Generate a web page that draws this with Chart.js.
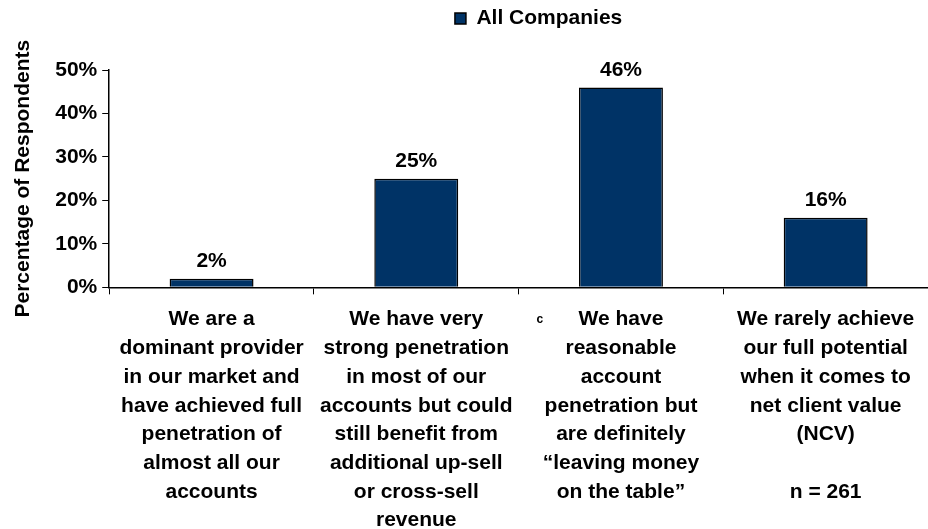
<!DOCTYPE html>
<html>
<head>
<meta charset="utf-8">
<script src="https://cdn.jsdelivr.net/npm/chart.js@4.4.1/dist/chart.umd.min.js"></script>
<style>
  html, body { margin: 0; padding: 0; background: #fff; }
  #wrap { width: 928px; height: 529px; position: relative; }
</style>
</head>
<body>
<div id="wrap"><canvas id="chart"></canvas></div>
<script>
// Survey answers, all companies (n = 261)
const categories = [
    ['We are a', 'dominant provider', 'in our market and', 'have achieved full', 'penetration of', 'almost all our', 'accounts'],
    ['We have very', 'strong penetration', 'in most of our', 'accounts but could', 'still benefit from', 'additional up-sell', 'or cross-sell', 'revenue'],
    ['We have', 'reasonable', 'account', 'penetration but', 'are definitely', '\u201cleaving money', 'on the table\u201d'],
    ['We rarely achieve', 'our full potential', 'when it comes to', 'net client value', '(NCV)', '', 'n = 261']
];
const allCompanies = [2, 25, 46, 16];
const yTicks = [0, 10, 20, 30, 40, 50];

const FONT = "'Liberation Sans', Arial, sans-serif";
const FS = 21;

// values above the bars
const valueLabels = {
    id: 'valueLabels',
    afterDatasetsDraw(chart) {
        const ctx = chart.ctx;
        const meta = chart.getDatasetMeta(0);
        ctx.save();
        ctx.font = 'bold ' + FS + 'px ' + FONT;
        ctx.fillStyle = '#000';
        ctx.textAlign = 'center';
        ctx.textBaseline = 'bottom';
        meta.data.forEach((bar, i) => {
            ctx.fillText(allCompanies[i] + '%', bar.x, bar.y - 7);
        });
        // stray "c" mark next to the third category label
        const xs = chart.scales.x;
        ctx.font = 'bold 12px ' + FONT;
        ctx.textBaseline = 'middle';
        ctx.fillText('c', xs.getPixelForValue(2) - 81, xs.top + 32);
        ctx.restore();
    }
};

// extra room under the legend, and legend nudged right like the original
const legendSpacing = {
    id: 'legendSpacing',
    beforeInit(chart) {
        const fit = chart.legend.fit;
        chart.legend.fit = function () {
            fit.call(this);
            this.height += 31;
        };
    },
    afterLayout(chart) {
        chart.legend.left += 20;
        chart.legend.right += 20;
    }
};

new Chart(document.getElementById('chart'), {
    type: 'bar',
    data: {
        labels: categories,
        datasets: [{
            label: 'All Companies',
            data: allCompanies,
            backgroundColor: '#003366',
            borderColor: '#000',
            borderWidth: 1.5,
            categoryPercentage: 0.41,
            barPercentage: 1.0
        }]
    },
    options: {
        responsive: true,
        maintainAspectRatio: false,
        animation: false,
        layout: { padding: { top: 2, right: 0, left: 11, bottom: -17 } },
        plugins: {
            legend: {
                display: true,
                position: 'top',
                fullSize: false,
                labels: {
                    boxWidth: 11,
                    boxHeight: 11,
                    color: '#000',
                    padding: 6,
                    font: { family: FONT, size: FS, weight: 'bold' }
                }
            },
            tooltip: { enabled: false }
        },
        scales: {
            x: {
                grid: {
                    display: true,
                    drawOnChartArea: false,
                    drawTicks: true,
                    tickLength: 7,
                    color: '#000',
                    lineWidth: 1
                },
                border: { color: '#000', width: 1.5 },
                ticks: {
                    color: '#000',
                    maxRotation: 0,
                    autoSkip: false,
                    padding: 11,
                    font: { family: FONT, size: FS, weight: 'bold', lineHeight: 1.367 }
                }
            },
            y: {
                min: 0,
                max: 50,
                afterBuildTicks: (axis) => { axis.ticks = yTicks.map(v => ({ value: v })); },
                grid: {
                    display: true,
                    drawOnChartArea: false,
                    drawTicks: true,
                    tickLength: 7,
                    color: '#000'
                },
                border: { color: '#000', width: 1.5 },
                ticks: {
                    color: '#000',
                    padding: 5,
                    callback: (v) => v + '%',
                    font: { family: FONT, size: FS, weight: 'bold' }
                },
                title: {
                    display: true,
                    text: 'Percentage of Respondents',
                    color: '#000',
                    padding: { top: 0, bottom: 14 },
                    font: { family: FONT, size: FS, weight: 'bold' }
                }
            }
        }
    },
    plugins: [valueLabels, legendSpacing]
});
</script>
</body>
</html>
